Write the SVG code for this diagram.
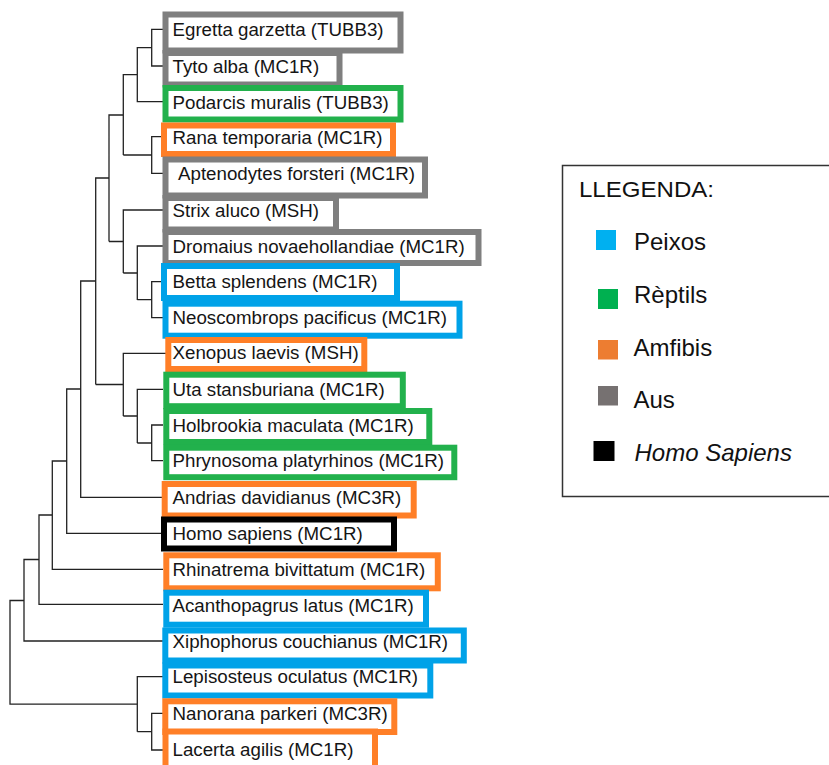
<svg xmlns="http://www.w3.org/2000/svg" width="829" height="765" viewBox="0 0 829 765">
<style>
.bg{fill:#ffffff}
.tree{fill:none;stroke:#222;stroke-width:1.3}
.box{fill:#ffffff;stroke-width:6}
.gray{stroke:#7f7f7f}
.green{stroke:#22b14c}
.orange{stroke:#ff7f27}
.blue{stroke:#00a2e8}
.black{stroke:#000000}
.lbl{font-family:"Liberation Sans",Arial,sans-serif;font-size:17.5px;fill:#151515}
.leg{font-family:"Liberation Sans",Arial,sans-serif;font-size:24px;fill:#111}
</style>
<rect class="bg" x="0" y="0" width="829" height="765"/>
<g id="connectors" class="tree">
<path d="M163 29.3H151.7V66H163M151.7 47.7H137.3V101.7H163M137.3 74.7H123.3V155M163 136.7H151.7V173.3H163M151.7 155H123.3M123.3 115H109V241.5"/>
<path d="M163 210H123.3V273M163 246H137.3V300M163 281.7H151.7V317.7H163M151.7 299.7H137.3M137.3 273H123.3M123.3 241.5H109M109 178H95.7V384.5"/>
<path d="M166 353.3H123.3V416M163 389.3H137.3V443M163 425H151.7V460.7H163M151.7 443H137.3M137.3 416H123.3M123.3 384.5H95.7M95.7 281H80.7V497.3H163"/>
<path d="M80.7 389H66.7V533.3H163M66.7 461H52.3V569.3H163M52.3 515H39V604.3H163M39 559.5H24V641H163M24 600.5H10V704.2H137.3"/>
<path d="M163 676.7H137.3V731.7M163 713.3H151.7V750H163M151.7 731.7H137.3"/>
</g>
<g id="n-egretta"><rect class="box gray" x="165.5" y="14.5" width="235" height="36"/><text class="lbl" transform="translate(172.5 36.2) scale(1.07 1)">Egretta garzetta (TUBB3)</text></g>
<g id="n-tyto"><rect class="box gray" x="165.5" y="53" width="174" height="31.5"/><text class="lbl" transform="translate(172.5 72.7) scale(1.07 1)">Tyto alba (MC1R)</text></g>
<g id="n-podarcis"><rect class="box green" x="165.5" y="88" width="235" height="31.5"/><text class="lbl" transform="translate(172.5 108.6) scale(1.07 1)">Podarcis muralis (TUBB3)</text></g>
<g id="n-rana"><rect class="box orange" x="164" y="125.5" width="229" height="28.5"/><text class="lbl" transform="translate(172.5 143.6) scale(1.07 1)">Rana temporaria (MC1R)</text></g>
<g id="n-aptenodytes"><rect class="box gray" x="165.5" y="159.5" width="259.5" height="36"/><text class="lbl" transform="translate(178 180) scale(1.07 1)">Aptenodytes forsteri (MC1R)</text></g>
<g id="n-strix"><rect class="box gray" x="165.5" y="198" width="170.5" height="31.5"/><text class="lbl" transform="translate(172.5 216.7) scale(1.07 1)">Strix aluco (MSH)</text></g>
<g id="n-dromaius"><rect class="box gray" x="165.5" y="232" width="313" height="31"/><text class="lbl" transform="translate(172.5 252.5) scale(1.07 1)">Dromaius novaehollandiae (MC1R)</text></g>
<g id="n-betta"><rect class="box blue" x="164" y="266" width="233" height="32"/><text class="lbl" transform="translate(172.5 288.3) scale(1.07 1)">Betta splendens (MC1R)</text></g>
<g id="n-neoscombrops"><rect class="box blue" x="165.5" y="303.7" width="294" height="32"/><text class="lbl" transform="translate(172.5 324.2) scale(1.07 1)">Neoscombrops pacificus (MC1R)</text></g>
<g id="n-xenopus"><rect class="box orange" x="168.3" y="340" width="196" height="29"/><text class="lbl" transform="translate(172.5 359.3) scale(1.07 1)">Xenopus laevis (MSH)</text></g>
<g id="n-uta"><rect class="box green" x="166.3" y="374.7" width="236.5" height="31.5"/><text class="lbl" transform="translate(172.5 396) scale(1.07 1)">Uta stansburiana (MC1R)</text></g>
<g id="n-holbrookia"><rect class="box green" x="166.3" y="411" width="263" height="31"/><text class="lbl" transform="translate(172.5 431.7) scale(1.07 1)">Holbrookia maculata (MC1R)</text></g>
<g id="n-phrynosoma"><rect class="box green" x="166.3" y="447.7" width="288" height="29.5"/><text class="lbl" transform="translate(172.5 467.3) scale(1.07 1)">Phrynosoma platyrhinos (MC1R)</text></g>
<g id="n-andrias"><rect class="box orange" x="164.7" y="484" width="249" height="31.5"/><text class="lbl" transform="translate(172.5 504) scale(1.07 1)">Andrias davidianus (MC3R)</text></g>
<g id="n-homo"><rect class="box black" x="164" y="519.5" width="230" height="29"/><text class="lbl" transform="translate(172.5 540) scale(1.07 1)">Homo sapiens (MC1R)</text></g>
<g id="n-rhinatrema"><rect class="box orange" x="166.3" y="555.3" width="271.5" height="33"/><text class="lbl" transform="translate(172.5 576) scale(1.07 1)">Rhinatrema bivittatum (MC1R)</text></g>
<g id="n-acanthopagrus"><rect class="box blue" x="166.3" y="592.7" width="259.7" height="32"/><text class="lbl" transform="translate(172.5 611.5) scale(1.07 1)">Acanthopagrus latus (MC1R)</text></g>
<g id="n-xiphophorus"><rect class="box blue" x="165.3" y="630.5" width="298.5" height="30"/><text class="lbl" transform="translate(172.5 647.7) scale(1.07 1)">Xiphophorus couchianus (MC1R)</text></g>
<g id="n-lepisosteus"><rect class="box blue" x="165.3" y="665.5" width="265" height="30"/><text class="lbl" transform="translate(172.5 683.3) scale(1.07 1)">Lepisosteus oculatus (MC1R)</text></g>
<g id="n-nanorana"><rect class="box orange" x="165.3" y="701.3" width="229" height="30.7"/><text class="lbl" transform="translate(172.5 720) scale(1.07 1)">Nanorana parkeri (MC3R)</text></g>
<g id="n-lacerta"><rect class="box orange" x="165.5" y="731.5" width="209.5" height="40"/><text class="lbl" transform="translate(172.5 755.7) scale(1.07 1)">Lacerta agilis (MC1R)</text></g>
<g id="legend">
<rect x="562.5" y="165.5" width="300" height="331" fill="#ffffff" stroke="#333" stroke-width="1.5"/>
<text class="leg" x="579" y="196.7" font-size="22" style="font-size:22px" textLength="135" lengthAdjust="spacingAndGlyphs">LLEGENDA:</text>
<rect x="596" y="230" width="20" height="20" fill="#00b0f0"/>
<text class="leg" x="634" y="249.5">Peixos</text>
<rect x="598" y="289" width="20" height="20" fill="#00b050"/>
<text class="leg" x="634" y="302.7">Rèptils</text>
<rect x="598" y="340" width="20" height="19.5" fill="#ed7d31"/>
<text class="leg" x="633.5" y="356">Amfibis</text>
<rect x="598" y="386" width="20" height="19.5" fill="#767171"/>
<text class="leg" x="633.5" y="408.3">Aus</text>
<rect x="593.5" y="441" width="21" height="20" fill="#000000"/>
<text class="leg" x="634.5" y="461" font-style="italic">Homo Sapiens</text>
</g>
</svg>
